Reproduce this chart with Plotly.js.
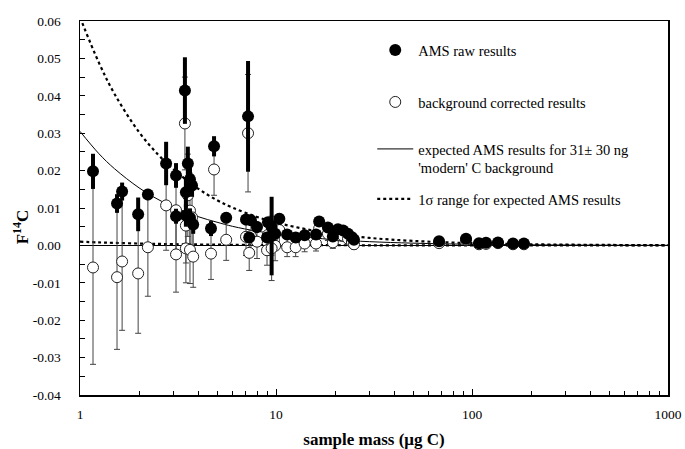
<!DOCTYPE html>
<html>
<head>
<meta charset="utf-8">
<script src="https://cdn.plot.ly/plotly-3.0.1.min.js"></script>
<style>html,body{margin:0;padding:0;background:#fff}#chart{width:685px;height:449px}</style>
</head>
<body>
<div id="chart"></div>
<script>
// sample mass (ug C)
const mass = [1.165,1.545,1.64,1.98,2.22,2.75,3.09,3.09,3.43,3.55,3.64,3.47,3.73,3.47,3.64,3.78,4.66,4.83,5.57,7.2,7.03,7.45,8.0,7.3,9.1,9.5,9.0,9.9,10.4,9.5,11.4,12.6,14.0,16.0,16.6,18.4,19.5,20.7,22,23.3,24.4,25,67.9,93.2,108.6,117.9,135.7,161.9,184];
// AMS raw results (F14C) and 1-sigma errors
const rawF = [0.0198,0.0112,0.0144,0.0083,0.0136,0.0219,0.0187,0.0078,0.0414,0.0219,0.0176,0.0142,0.0160,0.0080,0.0074,0.0056,0.0045,0.0265,0.0074,0.0345,0.0069,0.0067,0.0049,0.0021,0.0062,0.0049,0.0021,0.0031,0.0071,0.0025,0.0029,0.0021,0.0027,0.0029,0.0064,0.0048,0.0024,0.0043,0.0040,0.0031,0.0022,0.0015,0.0011,0.0018,0.0006,0.0007,0.0008,0.0005,0.0005];
const rawErr = [0.0047,0.0025,0.0024,0.0045,0.0015,0.0058,0.0033,0.0020,0.0089,0.0045,0.0040,0.0040,0.0030,0.0030,0.0025,0.0025,0.0020,0.0027,0.0015,0.0148,0.0015,0.0015,0.0015,0.0012,0.0012,0.0012,0.0012,0.0012,0.0015,0.0105,0.0010,0.0010,0.0010,0.0010,0.0010,0.0010,0.0010,0.0010,0.0010,0.0010,0.0010,0.0010,0.0005,0.0005,0.0004,0.0004,0.0004,0.0004,0.0004];
// background corrected results (F14C) and 1-sigma errors
const corrF = [-0.0059,-0.0085,-0.0043,-0.0075,-0.0005,0.0107,0.0094,-0.0024,0.0326,0.0134,0.0093,0.0053,0.0075,-0.0008,-0.0012,-0.0030,-0.0022,0.0203,0.0015,0.0300,0.0023,0.0025,0.0010,-0.0020,0.0028,0.0016,-0.0013,-0.0001,0.0041,-0.0008,-0.0005,-0.0005,0.0005,0.0005,0.0045,0.0031,0.0008,0.0028,0.0026,0.0018,0.0009,0.0003,0.0006,0.0015,0.0003,0.0004,0.0006,0.0003,0.0003];
const corrErr = [0.0259,0.0193,0.0184,0.0160,0.0131,0.0120,0.0105,0.0101,0.0124,0.0110,0.0100,0.0100,0.0095,0.0092,0.0090,0.0082,0.0069,0.0069,0.0055,0.0157,0.0050,0.0048,0.0045,0.0047,0.0042,0.0042,0.0040,0.0040,0.0042,0.0086,0.0025,0.0025,0.0022,0.0020,0.0020,0.0018,0.0016,0.0016,0.0015,0.0014,0.0014,0.0013,0.0006,0.0005,0.0005,0.0005,0.0004,0.0004,0.0004];
// expected AMS results curve and 1-sigma range
const curveMass = [1,1.25,1.5,2,2.5,3,4,5,6,8,10,15,20,30,50,100,200,500,1000];
const expected = [0.0305,0.0245,0.0205,0.0154,0.0123,0.0103,0.0077,0.0062,0.0051,0.0038,0.0031,0.0021,0.0015,0.0010,0.0006,0.0003,0.00015,0.00006,0.00003];
const upper = [0.0610,0.0488,0.0405,0.0303,0.0243,0.0203,0.0152,0.0121,0.0101,0.0076,0.0061,0.0041,0.0030,0.0020,0.0012,0.0006,0.0003,0.00012,0.00006];
const lower = [0.0010,0.0008,0.00067,0.0005,0.0004,0.00033,0.00025,0.0002,0.00017,0.00012,0.0001,0.00007,0.00005,0.00003,0.00002,0.00001,0.000005,0.000002,0.000001];
// ticks
const xTickVals = [1,10,100,1000];
const xTickText = ['1','10','100','1000'];
const xMinorVals = [2,3,4,5,6,7,8,9,20,30,40,50,60,70,80,90,200,300,400,500,600,700,800,900];
const yTickVals = [-0.04,-0.03,-0.02,-0.01,0,0.01,0.02,0.03,0.04,0.05,0.06];
const yTickText = ['-0.04','-0.03','-0.02','-0.01','0.00','0.01','0.02','0.03','0.04','0.05','0.06'];
const legendText = ['AMS raw results','background corrected results',"expected AMS results for 31± 30 ng<br>'modern' C background",'1σ range for expected AMS results'];

const serif = 'Liberation Serif, Times New Roman, serif';
const traces = [
  {x: curveMass, y: upper, mode:'lines', line:{color:'black', width:2.2, dash:'dot', shape:'spline'}, name: legendText[3], legend:'legend4'},
  {x: curveMass, y: lower, mode:'lines', line:{color:'black', width:2.2, dash:'dot', shape:'spline'}, showlegend:false},
  {x: curveMass, y: expected, mode:'lines', line:{color:'black', width:1, shape:'spline'}, name: legendText[2], legend:'legend3'},
  {x: mass, y: corrF, mode:'markers', name: legendText[1], legend:'legend2',
   marker:{symbol:'circle', size:11, color:'white', line:{color:'#222', width:1}},
   error_y:{type:'data', array: corrErr, visible:true, color:'#444', thickness:1, width:3}},
  {x: mass, y: rawF, mode:'markers', name: legendText[0], legend:'legend',
   marker:{symbol:'circle', size:12, color:'black', line:{color:'black', width:0}},
   error_y:{type:'data', array: rawErr, visible:true, color:'black', thickness:4, width:0}}
];
const legBase = {bgcolor:'rgba(0,0,0,0)', borderwidth:0, xanchor:'left', yanchor:'middle', itemwidth:36, font:{family:serif, size:14.5, color:'black'}, valign:'top'};
const layout = {
  width:685, height:449,
  margin:{l:80, r:17, t:21, b:54},
  paper_bgcolor:'white', plot_bgcolor:'white',
  showlegend:true,
  legend: Object.assign({}, legBase, {x:0.497, y:0.9225}),
  legend2: Object.assign({}, legBase, {x:0.497, y:0.7834}),
  legend3: Object.assign({}, legBase, {x:0.497, y:0.6324}),
  legend4: Object.assign({}, legBase, {x:0.497, y:0.5241}),
  xaxis:{type:'log', range:[0,3], tickvals:xTickVals, ticktext:xTickText, ticks:'inside', ticklen:6, tickwidth:1, tickcolor:'black',
    minor:{tickvals:xMinorVals, ticks:'inside', ticklen:4, tickwidth:1, tickcolor:'black', showgrid:false},
    showline:true, linecolor:'black', linewidth:1.5, mirror:true, showgrid:false, zeroline:false,
    tickfont:{family:serif, size:13.5, color:'black'}, ticklabelstandoff:6,
    title:{text:'<b>sample mass (μg C)</b>', font:{family:serif, size:17, color:'black'}, standoff:14}},
  yaxis:{range:[-0.04,0.06], tickvals:yTickVals, ticktext:yTickText, ticks:'inside', ticklen:5, tickwidth:1, tickcolor:'black',
    minor:{dtick:0.005, tick0:0, ticks:'inside', ticklen:5, tickwidth:1, tickcolor:'black', showgrid:false},
    showline:true, linecolor:'black', linewidth:1.5, mirror:true, showgrid:false,
    zeroline:true, zerolinecolor:'black', zerolinewidth:1.5,
    tickfont:{family:serif, size:13.5, color:'black'}, ticklabelstandoff:15},
  annotations:[{text:'<b>F<sup>14</sup>C</b>', xref:'paper', yref:'paper', x:-0.1, y:0.449, xanchor:'center', yanchor:'middle', textangle:-90, showarrow:false, font:{family:serif, size:17, color:'black'}}]
};
Plotly.newPlot('chart', traces, layout, {displayModeBar:false, staticPlot:true});
</script>
</body>
</html>
